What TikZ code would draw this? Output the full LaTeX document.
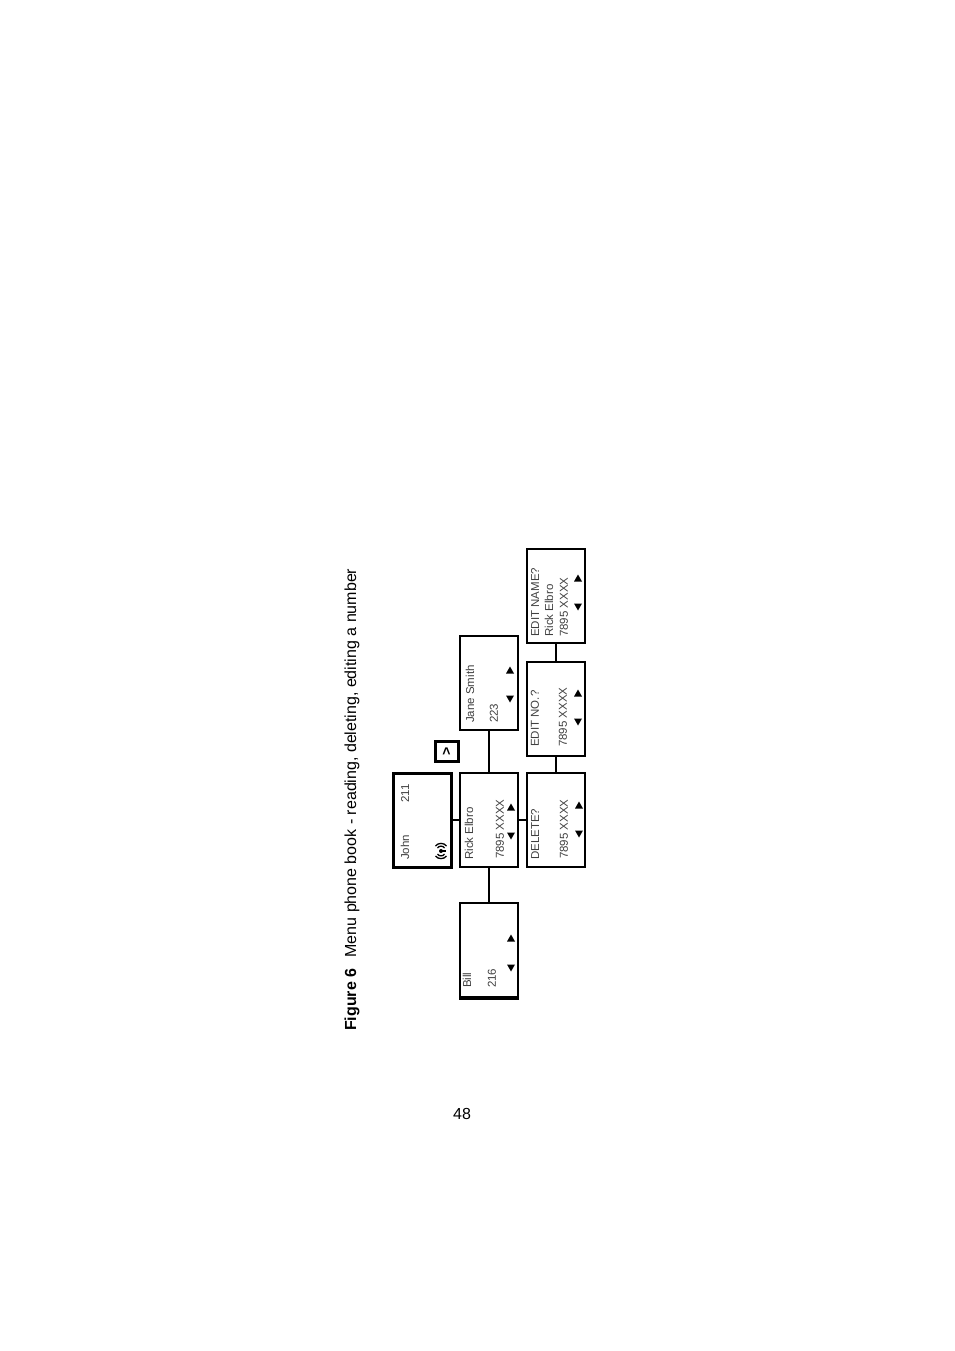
\documentclass[tikz,border=0pt]{standalone}
\usepackage{fontspec}
\setmainfont{Liberation Sans}
\begin{document}
\begin{tikzpicture}[x=1pt,y=-1pt,
  box/.style={draw, line width=2, inner sep=0, minimum width=58, minimum height=94},
  thickbox/.style={box, line width=3},
  lbl/.style={rotate=90, anchor=west, inner sep=0, text=black!75, font=\fontsize{11.5}{13}\selectfont},
  conn/.style={line width=1.5},
  uptri/.pic={\fill (-4,3.5) -- (4,3.5) -- (0,-3.5) -- cycle;},
  dntri/.pic={\fill (-4,-3.5) -- (4,-3.5) -- (0,3.5) -- cycle;}]
\useasboundingbox (0,0) rectangle (954,1351);

% boxes
\node[thickbox] (john) at (422.5,820) {};
\node[box] (rick) at (489,820) {};
\node[box] (del) at (556,820) {};
\node[box] (bill) at (489,950) {};
\node[box] (jane) at (489,683) {};
\node[box] (editno) at (556,709) {};
\node[box] (editname) at (556,596) {};
\node[draw, line width=3, minimum width=23, minimum height=20, inner sep=0] (caret) at (447,751)
  {\rotatebox{90}{\fontsize{14}{14}\selectfont\bfseries >}};
\draw[line width=3.5] (bill.south west) -- (bill.south east);

% connectors
\draw[conn] (john.east) -- (rick.west);
\draw[conn] (rick.east) -- (del.west);
\draw[conn] (rick.south) -- (bill.north);
\draw[conn] (rick.north) -- (jane.south);
\draw[conn] (del.north) -- (editno.south);
\draw[conn] (editno.north) -- (editname.south);

% John
\node[lbl] (tjohn) at (405,860) {John};
\node[lbl] (tjohnn) at (405,803) {211};
\fill (441,851) circle (2);
\draw[line width=1.3] (437.5,848) .. controls (439,845.5) and (443,845.5) .. (444.5,848);
\draw[line width=1.3] (435.5,846) .. controls (438,842.5) and (444,842.5) .. (446.5,846);
\draw[line width=1.3] (437.5,854) .. controls (439,856.5) and (443,856.5) .. (444.5,854);
\draw[line width=1.3] (435.5,856) .. controls (438,859.5) and (444,859.5) .. (446.5,856);
\draw[line width=1.3] (441,851) -- (446,851);

% Rick
\node[lbl] (trick) at (469,860) {Rick Elbro};
\node[lbl] (trickn) at (500,859) {7895 XXXX};
\pic at (511,807) {uptri};
\pic at (511,836) {dntri};

% Delete
\node[lbl] (tdel) at (535,860) {DELETE?};
\node[lbl] (tdeln) at (564,859) {7895 XXXX};
\pic at (579,805) {uptri};
\pic at (579,834) {dntri};

% Bill
\node[lbl] (tbill) at (467,988) {Bill};
\node[lbl] (tbilln) at (492,988) {216};
\pic at (511,938) {uptri};
\pic at (511,968) {dntri};

% Jane
\node[lbl] (tjane) at (470,723) {Jane Smith};
\node[lbl] (tjanen) at (494,723) {223};
\pic at (510,670) {uptri};
\pic at (510,699) {dntri};

% Edit no
\node[lbl] (teditno) at (535,747) {EDIT NO.?};
\node[lbl] (teditnon) at (563,747) {7895 XXXX};
\pic at (578,693) {uptri};
\pic at (578,722) {dntri};

% Edit name
\node[lbl] (teditname) at (535,637) {EDIT NAME?};
\node[lbl] (teditnamer) at (549,637) {Rick Elbro};
\node[lbl] (teditnamen) at (564,637) {7895 XXXX};
\pic at (578,578) {uptri};
\pic at (578,607) {dntri};

% caption and page number
\node[rotate=90, anchor=west, inner sep=0, font=\fontsize{16}{18}\selectfont] (caption) at (352,1031)
  {\textbf{Figure 6}\hspace{0.7em}Menu phone book - reading, deleting, editing a number};
\node[font=\fontsize{16}{18}\selectfont, inner sep=0] (page) at (462,1114) {48};
\end{tikzpicture}
\end{document}
